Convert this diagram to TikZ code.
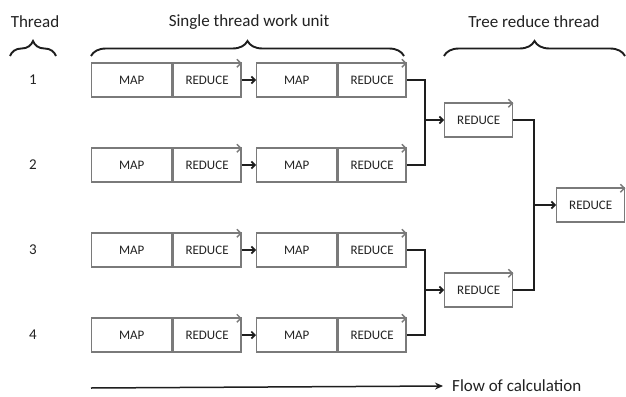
\documentclass[tikz,border=0pt]{standalone}
\usepackage{fontspec}
\setmainfont{Carlito}
\usetikzlibrary{arrows.meta,decorations.pathreplacing}
\definecolor{boxgray}{HTML}{7A7A7A}
\definecolor{txt}{HTML}{222222}
\definecolor{conn}{HTML}{1E1E1E}
\tikzset{
  cell/.style={draw=boxgray, line width=1.4pt, minimum height=34pt, inner sep=0pt,
    text=txt, font=\fontsize{13}{13}\selectfont, anchor=west},
  mapcell/.style={cell, minimum width=80pt},
  redcell/.style={cell, minimum width=68pt},
  topflow/.style={draw=boxgray, line width=1.4pt, -{Straight Barb[length=4pt,width=8pt]}},
  link/.style={draw=conn, line width=1.6pt},
  linkarrow/.style={link, -{Straight Barb[length=3.5pt,width=7pt]}},
  bracestyle/.style={draw=conn, line width=1.9pt, decorate, decoration={brace, amplitude=15pt}},
  heading/.style={text=txt, font=\fontsize{17}{17}\selectfont},
  num/.style={text=txt, font=\fontsize{15}{15}\selectfont},
}
\begin{document}
\begin{tikzpicture}[x=1pt,y=-1pt]
\useasboundingbox (0,0) rectangle (626,396);
\fill[white] (0,0) rectangle (626,396);

% headings
\node[heading] (hthread) at (35,22) {Thread};
\node[heading] (hsingle) at (249,22) {Single thread work unit};
\node[heading] (htree) at (534,22) {Tree reduce thread};

% braces
\coordinate (ba1) at (10,56); \coordinate (ba2) at (56,56);
\coordinate (bb1) at (91,56); \coordinate (bb2) at (404,56);
\coordinate (bc1) at (444,56); \coordinate (bc2) at (625,56);
\draw[bracestyle] (ba1) -- (ba2);
\draw[bracestyle] (bb1) -- (bb2);
\draw[bracestyle] (bc1) -- (bc2);

% rows
\foreach \i/\y in {1/80,2/165,3/250,4/335}{
  \node[num] (n\i) at (33,\y) {\i};
  \node[mapcell] (ma\i) at (91,\y) {MAP};
  \node[redcell] (ra\i) at (ma\i.east) {REDUCE};
  \node[mapcell] (mb\i) at (256,\y) {MAP};
  \node[redcell] (rb\i) at (mb\i.east) {REDUCE};
  \draw[topflow] ([yshift=-1pt]ma\i.north west) -- ([yshift=-1pt]ra\i.north east);
  \draw[topflow] ([yshift=-1pt]mb\i.north west) -- ([yshift=-1pt]rb\i.north east);
  \draw[linkarrow] (ra\i.east) -- (mb\i.west);
}

% tree reduce
\node[redcell] (t1) at (444,120) {REDUCE};
\node[redcell] (t2) at (444,290) {REDUCE};
\node[redcell] (t3) at (556,205) {REDUCE};
\draw[topflow] ([yshift=-1pt]t1.north west) -- ([yshift=-1pt]t1.north east);
\draw[topflow] ([yshift=-1pt]t2.north west) -- ([yshift=-1pt]t2.north east);
\draw[topflow] ([yshift=-1pt]t3.north west) -- ([yshift=-1pt]t3.north east);

\coordinate (ja) at (425,120);
\coordinate (jb) at (425,290);
\coordinate (jc) at (534,205);
\draw[link] (rb1.east) -| (ja) |- (rb2.east);
\draw[link] (rb3.east) -| (jb) |- (rb4.east);
\draw[link] (t1.east) -| (jc) |- (t2.east);
\draw[linkarrow] (ja) -- (t1.west);
\draw[linkarrow] (jb) -- (t2.west);
\draw[linkarrow] (jc) -- (t3.west);

% flow of calculation
\coordinate (fs) at (91,388);
\node[heading, anchor=west, inner sep=0pt] (flow) at (452,386) {Flow of calculation};
\draw[draw=conn, line width=1.5pt, -{Stealth[length=8pt,width=7pt]}] (fs) -- ([xshift=-9pt]flow.west);
\end{tikzpicture}
\end{document}
